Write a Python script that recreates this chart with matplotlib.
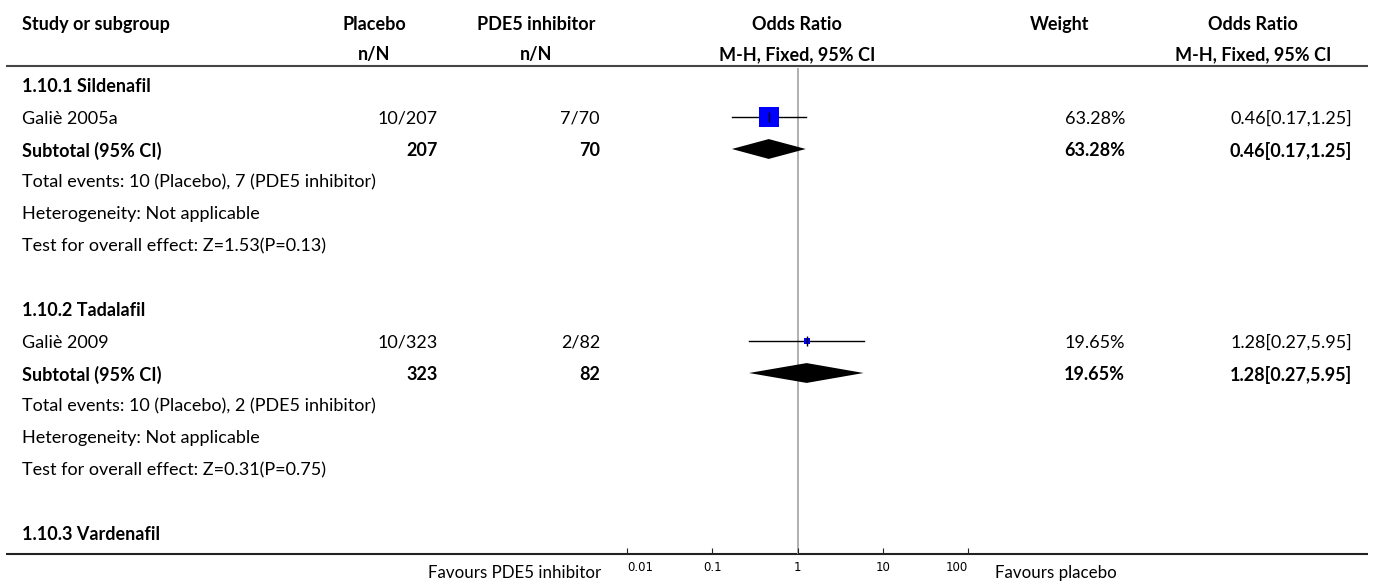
import numpy as np
import matplotlib
matplotlib.use("Agg")
import matplotlib.pyplot as plt

plt.rcParams['font.family'] = ['Lato', 'DejaVu Sans']

# data
subgroups = ["1.10.1 Sildenafil", "1.10.2 Tadalafil", "1.10.3 Vardenafil"]
studies = ["Galiè 2005a", "Galiè 2009"]
placebo_events = [10, 10]
placebo_total = [207, 323]
pde5_events = [7, 2]
pde5_total = [70, 82]
odds_ratio = [0.46, 1.28]
ci_low = [0.17, 0.27]
ci_high = [1.25, 5.95]
weights = [63.28, 19.65]
z_stats = [1.53, 0.31]
p_values = [0.13, 0.75]
ticks = [0.01, 0.1, 1, 10, 100]

W, H = 1375, 584
fig = plt.figure(figsize=(W / 100, H / 100), dpi=100)
bg = fig.add_axes([0, 0, 1, 1])
bg.set_xlim(0, W)
bg.set_ylim(H, 0)
bg.axis("off")

# layout in pixels
row0, step = 85, 32
dy = 1.5  # text box centre vs. visual centre
x_left = 22
x_plc, x_plc_hdr = 438, 374
x_pde, x_pde_hdr = 600, 536
x_or_hdr = 797
x_wt, x_wt_hdr = 1125, 1060
x_ci, x_ci_hdr = 1352, 1253
fs = 13
plot_x0, plot_x1 = 627, 968
plot_top, plot_bot = 68, 554


def row_y(i):
    return row0 + step * i + dy


def txt(x, y, s, ha="left", bold=False, size=fs):
    bg.text(x, y, s, ha=ha, va="center", fontsize=size, fontweight="bold" if bold else "normal")


# header
for x, t1, t2 in [(x_plc_hdr, "Placebo", "n/N"), (x_pde_hdr, "PDE5 inhibitor", "n/N"),
                  (x_or_hdr, "Odds Ratio", "M-H, Fixed, 95% CI"), (x_wt_hdr, "Weight", ""),
                  (x_ci_hdr, "Odds Ratio", "M-H, Fixed, 95% CI")]:
    txt(x, 23 + dy, t1, ha="center", bold=True)
    txt(x, 53 + dy, t2, ha="center", bold=True)
txt(x_left, 23 + dy, "Study or subgroup", bold=True)
bg.plot([6, 1368], [66, 66], color="#444444", lw=1.5, solid_capstyle="butt")
bg.plot([6, 1368], [plot_bot, plot_bot], color="#222222", lw=1.5, solid_capstyle="butt")

# forest panel, log x, rows in index units
ax = fig.add_axes([plot_x0 / W, (H - plot_bot) / H, (plot_x1 - plot_x0) / W, (plot_bot - plot_top) / H])
ax.set_xscale("log")
ax.set_xlim(ticks[0], ticks[-1])
ax.set_ylim((plot_bot - row0) / step, (plot_top - row0) / step)
for s in ax.spines.values():
    s.set_visible(False)
ax.set_yticks([])
ax.set_xticks(ticks)
ax.set_xticklabels([f"{t:g}" for t in ticks], fontsize=8.5, family="DejaVu Sans")
ax.minorticks_off()
ax.tick_params(axis="x", direction="in", length=4, width=0.8, pad=5, color="#222222")
labels = ax.get_xticklabels()
labels[0].set_ha("left")
labels[-1].set_ha("right")
ax.patch.set_alpha(0)
ax.axvline(1, color="#aaaaaa", lw=1.3, zorder=0)

sq_size = [15, 4.3]

r = 0
for g, name in enumerate(subgroups):
    txt(x_left, row_y(r), name, bold=True)
    r += 1
    if g >= len(studies):
        break
    # study row
    y = row_y(r)
    ci_txt = f"{odds_ratio[g]:.2f}[{ci_low[g]:.2f},{ci_high[g]:.2f}]"
    txt(x_left, y, studies[g])
    txt(x_plc, y, f"{placebo_events[g]}/{placebo_total[g]}", ha="right")
    txt(x_pde, y, f"{pde5_events[g]}/{pde5_total[g]}", ha="right")
    txt(x_wt, y, f"{weights[g]:.2f}%", ha="right")
    txt(x_ci, y, ci_txt, ha="right")
    ax.plot([ci_low[g], ci_high[g]], [r, r], color="black", lw=1.0, zorder=2)
    ax.plot(odds_ratio[g], r, marker="s", ms=sq_size[g], color="#0000ff", mew=0, zorder=3)
    ax.plot(odds_ratio[g], r, marker="|", ms=6.5, color="black", mew=1.0, zorder=4)
    r += 1
    # subtotal row
    y = row_y(r)
    txt(x_left, y, "Subtotal (95% CI)", bold=True)
    txt(x_plc, y, f"{placebo_total[g]}", ha="right", bold=True)
    txt(x_pde, y, f"{pde5_total[g]}", ha="right", bold=True)
    txt(x_wt, y, f"{weights[g]:.2f}%", ha="right", bold=True)
    txt(x_ci, y, ci_txt, ha="right", bold=True)
    ax.fill([ci_low[g], odds_ratio[g], ci_high[g], odds_ratio[g]], [r, r - 0.31, r, r + 0.31],
            color="black", lw=0, zorder=3)
    r += 1
    txt(x_left, row_y(r), f"Total events: {placebo_events[g]} (Placebo), {pde5_events[g]} (PDE5 inhibitor)")
    r += 1
    txt(x_left, row_y(r), "Heterogeneity: Not applicable")
    r += 1
    txt(x_left, row_y(r), f"Test for overall effect: Z={z_stats[g]:.2f}(P={p_values[g]:.2f})")
    r += 2

txt(601, 573, "Favours PDE5 inhibitor", ha="right", size=12.2)
txt(995, 573, "Favours placebo", size=12.2)

fig.savefig("out.png", dpi=100)
